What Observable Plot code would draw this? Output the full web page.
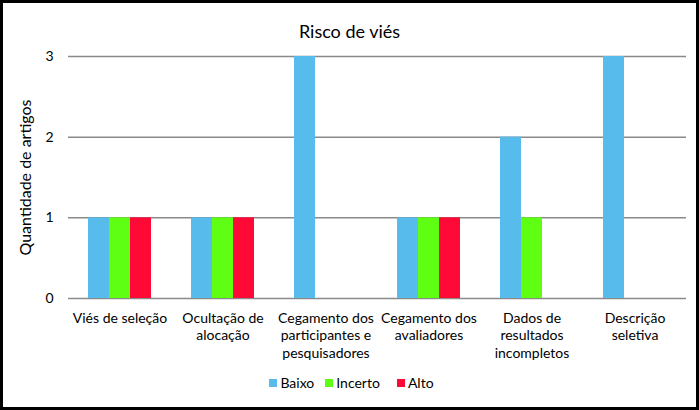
<!DOCTYPE html>
<html>
<head>
<meta charset="utf-8">
<script src="https://cdn.jsdelivr.net/npm/d3@7"></script>
<script src="https://cdn.jsdelivr.net/npm/@observablehq/plot@0.6"></script>
<style>
  html, body { margin: 0; padding: 0; background: #fff; }
  #chart {
    width: 699px; height: 410px; box-sizing: border-box;
    border: 3px solid #000; background: #fff; overflow: hidden;
    font-family: Lato, "Open Sans", sans-serif; color: #000;
  }
  #title { text-align: center; font-size: 18px; line-height: 22px; padding-top: 17px; height: 22px; }
  #legend { display: flex; justify-content: center; align-items: center; font-size: 14px; line-height: 20px; padding-top: 6px; padding-left: 4px; }
  .item { display: inline-flex; align-items: center; }
  .sw { width: 8px; height: 8px; display: inline-block; margin-right: 3px; }
  svg { display: block; }
</style>
</head>
<body>
<div id="chart">
  <div id="title">Risco de viés</div>
  <div id="plot"></div>
  <div id="legend"></div>
</div>
<script>
const categories = [
  "Viés de seleção",
  "Ocultação de alocação",
  "Cegamento dos participantes e pesquisadores",
  "Cegamento dos avaliadores",
  "Dados de resultados incompletos",
  "Descrição seletiva"
];
const categoryLabels = [
  "Viés de seleção",
  "Ocultação de\nalocação",
  "Cegamento dos\nparticipantes e\npesquisadores",
  "Cegamento dos\navaliadores",
  "Dados de\nresultados\nincompletos",
  "Descrição\nseletiva"
];
const series = ["Baixo", "Incerto", "Alto"];
const baixo = [1, 1, 3, 1, 2, 3];
const incerto = [1, 1, 0, 1, 1, 0];
const alto = [1, 1, 0, 1, 0, 0];
const yTicks = [0, 1, 2, 3];
const colors = ["#57BBEC", "#5EFF12", "#FF0A37"];

const valuesBySeries = [baixo, incerto, alto];
const data = [];
categories.forEach((c, i) => {
  series.forEach((s, j) => {
    const v = valuesBySeries[j][i];
    if (v > 0) data.push({category: c, serie: s, value: v});
  });
});
const labelOf = new Map(categories.map((c, i) => [c, categoryLabels[i]]));

const chart = Plot.plot({
  width: 693,
  height: 325,
  marginTop: 14,
  marginBottom: 69,
  marginLeft: 64,
  marginRight: 10,
  style: {fontFamily: "Lato, 'Open Sans', sans-serif", color: "#000", background: "#fff"},
  fx: {domain: categories, padding: 0},
  x: {domain: series, paddingInner: 0, paddingOuter: 0.94},
  y: {domain: [0, 3]},
  color: {domain: series, range: colors},
  marks: [
    Plot.ruleY(yTicks, {stroke: "#8a8a8a", strokeWidth: 1.5}),
    Plot.barY(data, {fx: "category", x: "serie", y: "value", fill: "serie"}),
    Plot.axisY({ticks: yTicks, tickFormat: "d", tickSize: 0, tickPadding: 15, fontSize: 14,
      label: "Quantidade de artigos", labelAnchor: "center", labelArrow: "none", labelOffset: 49}),
    Plot.axisX({ticks: [], label: null}),
    Plot.axisFx({anchor: "bottom", tickSize: 0, tickPadding: 12, fontSize: 14, lineHeight: 1.25, label: null,
      tickFormat: (d) => labelOf.get(d)})
  ]
});
chart.querySelectorAll("g[aria-label='y-axis label'] text").forEach(t => t.setAttribute("font-size", "16"));
document.getElementById("plot").appendChild(chart);

const legend = document.getElementById("legend");
const gaps = [11, 17, 0];
series.forEach((s, i) => {
  const it = document.createElement("span");
  it.className = "item";
  it.style.marginRight = gaps[i] + "px";
  const sw = document.createElement("span");
  sw.className = "sw";
  sw.style.background = colors[i];
  const tx = document.createElement("span");
  tx.textContent = s;
  it.appendChild(sw); it.appendChild(tx);
  legend.appendChild(it);
});
</script>
</body>
</html>
